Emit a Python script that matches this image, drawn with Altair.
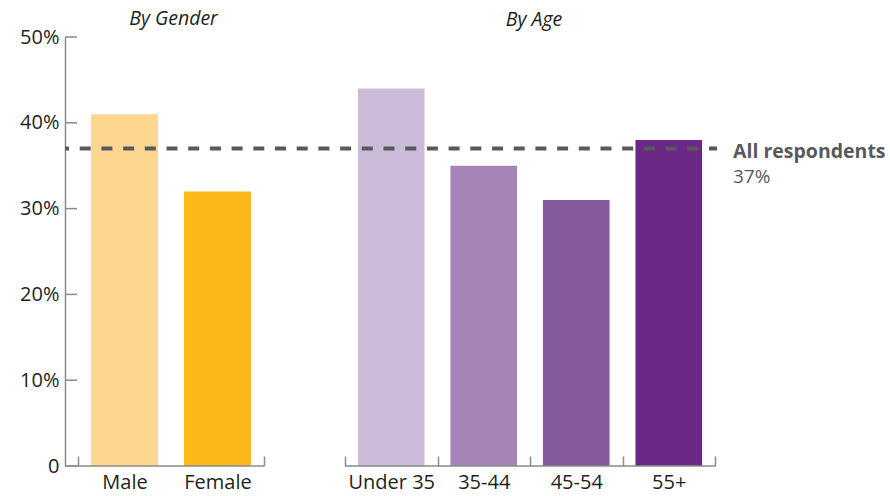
import altair as alt
import pandas as pd

gender_cats = ["Male", "Female"]
gender_vals = [41, 32]
gender_colors = ["#FDD78F", "#FCB816"]
age_cats = ["Under 35", "35-44", "45-54", "55+"]
age_vals = [44, 35, 31, 38]
age_colors = ["#CBBBD9", "#A584B7", "#855A9D", "#6A2887"]
panel_titles = ["By Gender", "By Age"]
avg_value = [37]
avg_label = ["All respondents", "37%"]
y_ticks = [0, 10, 20, 30, 40, 50]

FONT = "Open Sans"
TEXT = "#231F20"
AX = "#8A8A8A"
GREY = "#58595B"
H = 429
WG = 199
WA = 370
GAP = 81

gdf = pd.DataFrame({"cat": gender_cats, "val": gender_vals, "color": gender_colors})
adf = pd.DataFrame({"cat": age_cats, "val": age_vals, "color": age_colors})
tick_df = pd.DataFrame({"v": y_ticks})
zero_df = pd.DataFrame({"v": [0]})
avg_df = pd.DataFrame({"v": avg_value, "l1": [avg_label[0]], "l2": [avg_label[1]]})

yscale = alt.Scale(domain=[0, 50], nice=False, zero=True)


def xaxis(hide_first):
    kw = dict(offset=-10, domain=False, tickSize=10, tickBand="extent",
              tickColor=AX, tickWidth=1.5, labelPadding=6, labelFont=FONT,
              labelFontSize=20, labelColor=TEXT, labelAngle=0, title=None)
    if hide_first:
        kw["tickOpacity"] = {"condition": {"test": "datum.index == 0", "value": 0}, "value": 1}
    return alt.Axis(**kw)


def ptitle(text, dx, dy):
    return alt.TitleParams(text, font=FONT, fontSize=19.5, fontStyle="italic",
                           fontWeight="normal", color=TEXT, anchor="middle",
                           frame="group", baseline="alphabetic", offset=10, dx=dx, dy=dy)


g_bars = alt.Chart(gdf).mark_bar(width=alt.RelativeBandSize(0.72)).encode(
    x=alt.X("cat:N", sort=gender_cats,
            scale=alt.Scale(paddingInner=0, paddingOuter=0.07, align=1),
            axis=xaxis(True)),
    y=alt.Y("val:Q", scale=yscale,
            axis=alt.Axis(values=y_ticks,
                          labelExpr="datum.value == 0 ? '0' : datum.value + '%'",
                          tickSize=0, domainColor=AX, domainWidth=1.5, grid=False,
                          labelFont=FONT, labelFontSize=20, labelColor=TEXT,
                          labelPadding=6, title=None)),
    color=alt.Color("color:N", scale=None),
)
g_ticks = alt.Chart(tick_df).mark_rule(color=AX, strokeWidth=1.5).encode(
    y=alt.Y("v:Q", scale=yscale), x=alt.value(0), x2=alt.value(12))
g_base = alt.Chart(zero_df).mark_rule(color=AX, strokeWidth=1.5).encode(
    y=alt.Y("v:Q", scale=yscale), x=alt.value(0), x2=alt.value(WG))
left = alt.layer(g_bars, g_ticks, g_base).properties(
    width=WG, height=H, title=ptitle(panel_titles[0], 9, 27.5))

a_bars = alt.Chart(adf).mark_bar(width=alt.RelativeBandSize(0.72)).encode(
    x=alt.X("cat:N", sort=age_cats,
            scale=alt.Scale(paddingInner=0, paddingOuter=0),
            axis=xaxis(False)),
    y=alt.Y("val:Q", scale=yscale, axis=None),
    color=alt.Color("color:N", scale=None),
)
a_base = alt.Chart(zero_df).mark_rule(color=AX, strokeWidth=1.5).encode(
    y=alt.Y("v:Q", scale=yscale), x=alt.value(0), x2=alt.value(WA))
avg_line = alt.Chart(avg_df).mark_rule(color=GREY, strokeWidth=4, strokeDash=[11, 10.7],
                                       strokeDashOffset=7).encode(
    y=alt.Y("v:Q", scale=yscale), x=alt.value(-(WG + GAP)), x2=alt.value(WA + 2))
avg_t1 = alt.Chart(avg_df).mark_text(align="left", baseline="alphabetic", font=FONT,
                                     fontSize=19.5, fontWeight="bold", color=GREY, dy=9.5).encode(
    y=alt.Y("v:Q", scale=yscale), x=alt.value(WA + 18), text="l1:N")
avg_t2 = alt.Chart(avg_df).mark_text(align="left", baseline="alphabetic", font=FONT,
                                     fontSize=19, color=GREY, dy=34.5).encode(
    y=alt.Y("v:Q", scale=yscale), x=alt.value(WA + 18), text="l2:N")
right = alt.layer(a_bars, a_base, avg_line, avg_t1, avg_t2).properties(
    width=WA, height=H, title=ptitle(panel_titles[1], 4, 18.5))

chart = alt.hconcat(left, right, spacing=GAP, bounds="flush").configure_view(
    stroke=None).properties(padding={"left": 19, "top": 9, "right": 0, "bottom": 0})

chart.save("out.html", embed_options={"renderer": "svg", "actions": False})
